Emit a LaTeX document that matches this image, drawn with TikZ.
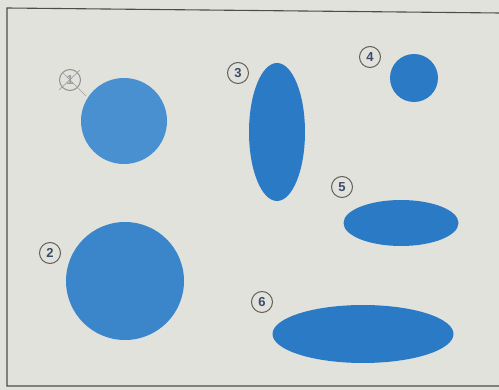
\documentclass[tikz,border=0pt]{standalone}
\usepackage{fontspec}
\setmainfont{Liberation Sans}
\usetikzlibrary{shapes.geometric}
\definecolor{paper}{RGB}{226,226,221}
\definecolor{blob}{RGB}{42,122,198}
\definecolor{blobl}{RGB}{72,144,208}
\definecolor{ring}{RGB}{100,95,90}
\definecolor{digit}{RGB}{60,75,105}
\tikzset{
  shapefill/.style={fill=blob, draw=none},
  tag/.style={circle, draw=ring, line width=1pt, minimum size=21pt, inner sep=0pt, font=\bfseries\fontsize{13}{13}\selectfont, text=digit},
  frameline/.style={draw=ring!80!black, line width=1.1pt}
}
\begin{document}
\begin{tikzpicture}[x=1pt,y=-1pt]
\useasboundingbox (0,0) rectangle (499,390);
\fill[paper] (0,0) rectangle (499,390);
\draw[frameline] (500,13) -- (7,8) -- (7,386) -- (500,386);
% shapes
\node[shapefill, fill=blobl, circle, minimum size=86pt, inner sep=0pt] (c1) at (124,121) {};
\node[shapefill, fill=blob!92!white, circle, minimum size=118pt, inner sep=0pt] (c2) at (125,281) {};
\node[shapefill, ellipse, minimum width=56pt, minimum height=138pt, inner sep=0pt] (e3) at (277,132) {};
\node[shapefill, circle, minimum size=48pt, inner sep=0pt] (c4) at (414,78) {};
\node[shapefill, ellipse, minimum width=115pt, minimum height=46pt, inner sep=0pt] (e5) at (401,223) {};
\node[shapefill, ellipse, minimum width=181pt, minimum height=58pt, inner sep=0pt] (e6) at (363,334) {};
% labels
\node[tag, draw=ring!70, text=digit!55] (t1) at (70,80) {1};
\draw[ring!60, line width=0.7pt] ([shift={(2,-2)}]t1.north east) -- ([shift={(-3,2)}]t1.south west);
\draw[ring!60, line width=0.7pt] (t1.north west) -- ([shift={(8,8)}]t1.south east);
\node[tag] (t2) at (50,253) {2};
\node[tag] (t3) at (238,73) {3};
\node[tag] (t4) at (370,57) {4};
\node[tag] (t5) at (342,187) {5};
\node[tag] (t6) at (262,302) {6};
\end{tikzpicture}
\end{document}
